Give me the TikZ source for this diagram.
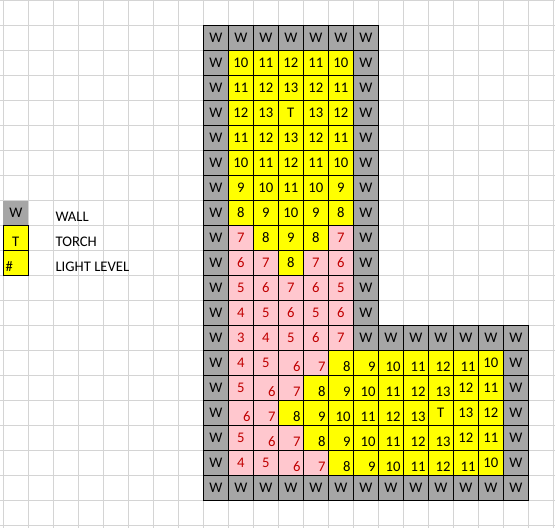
\documentclass[tikz,border=0pt]{standalone}
\usepackage{fontspec}
\setmainfont{Carlito}
\definecolor{wallgray}{HTML}{A6A6A6}
\definecolor{litey}{HTML}{FFFF00}
\definecolor{pinkfill}{HTML}{FFC7CE}
\definecolor{darkred}{HTML}{C00000}
\definecolor{gridgray}{HTML}{D4D4D4}
\tikzset{
  cellbox/.style={draw=black,line width=0.8pt},
  celltext/.style={inner sep=0pt,font=\fontsize{11}{13}\selectfont},
  gridline/.style={draw=gridgray,line width=0.75pt},
}
% col row fill textcolor text align
\newcommand\cellat[6]{%
  \path[cellbox,fill=#3] ({203.3+25*(#1-1)},{25.7+25*(#2-1)}) rectangle ++(25,25);
  \if#6c
    \node[celltext,text=#4,anchor=base] (c-#1-#2) at ({203.3+25*(#1-1)+12.5},{25.7+25*(#2-1)+17.1}) {#5};
  \else
    \node[celltext,text=#4,anchor=base east] (c-#1-#2) at ({203.3+25*#1-2.5},{25.7+25*#2-4.4}) {#5};
  \fi}
\newcommand\cellW[2]{\cellat{#1}{#2}{wallgray}{black}{W}{c}}
\newcommand\cellY[3]{\cellat{#1}{#2}{litey}{black}{#3}{c}}
\newcommand\cellYR[3]{\cellat{#1}{#2}{litey}{black}{#3}{r}}
\newcommand\cellP[3]{\cellat{#1}{#2}{pinkfill}{darkred}{#3}{c}}
\newcommand\cellPR[3]{\cellat{#1}{#2}{pinkfill}{darkred}{#3}{r}}
\begin{document}
\begin{tikzpicture}[x=0.75pt,y=-0.75pt]
\useasboundingbox (0,0) rectangle (555,528);
\fill[white] (0,0) rectangle (555,528);
% spreadsheet gridlines
\foreach \k in {0,...,22} \draw[gridline] ({3.3+25*\k},0) -- ({3.3+25*\k},528);
\foreach \k in {0,...,21} \draw[gridline] (0,{0.7+25*\k}) -- (555,{0.7+25*\k});
% legend
\path[fill=wallgray] (3.3,200.7) rectangle (28.3,225.7);
\node[celltext,anchor=base] (lw) at (15.8,217.8) {W};
\path[cellbox,fill=litey] (3.3,225.7) rectangle (28.3,250.7);
\node[celltext,anchor=base] (lt) at (15.8,246.3) {T};
\path[cellbox,fill=litey] (3.3,250.7) rectangle (28.3,275.7);
\node[celltext,anchor=base west] (lh) at (5.3,271.3) {\#};
\node[celltext,anchor=base west] (lwall) at (55.3,221.3) {WALL};
\node[celltext,anchor=base west] (ltorch) at (55.3,246.3) {TORCH};
\node[celltext,anchor=base west] (llight) at (55.3,271.3) {LIGHT LEVEL};
% walls of the upper part
\foreach \c in {1,...,7} {\cellW{\c}{1}}
\foreach \r in {2,...,18} {\cellW{1}{\r}}
\foreach \r in {2,...,13} {\cellW{7}{\r}}
\foreach \c in {8,...,13} {\cellW{\c}{13}}
\foreach \r in {14,...,18} {\cellW{13}{\r}}
\foreach \c in {1,...,13} {\cellW{\c}{19}}
% upper rows
\foreach \c/\v in {2/10,3/11,4/12,5/11,6/10} {\cellY{\c}{2}{\v}}
\foreach \c/\v in {2/11,3/12,4/13,5/12,6/11} {\cellY{\c}{3}{\v}}
\foreach \c/\v in {2/12,3/13,4/T,5/13,6/12} {\cellY{\c}{4}{\v}}
\foreach \c/\v in {2/11,3/12,4/13,5/12,6/11} {\cellY{\c}{5}{\v}}
\foreach \c/\v in {2/10,3/11,4/12,5/11,6/10} {\cellY{\c}{6}{\v}}
\foreach \c/\v in {2/9,3/10,4/11,5/10,6/9} {\cellY{\c}{7}{\v}}
\foreach \c/\v in {2/8,3/9,4/10,5/9,6/8} {\cellY{\c}{8}{\v}}
\foreach \c/\v/\t in {2/7/P,3/8/Y,4/9/Y,5/8/Y,6/7/P} {\csname cell\t\endcsname{\c}{9}{\v}}
\foreach \c/\v/\t in {2/6/P,3/7/P,4/8/Y,5/7/P,6/6/P} {\csname cell\t\endcsname{\c}{10}{\v}}
\foreach \c/\v in {2/5,3/6,4/7,5/6,6/5} {\cellP{\c}{11}{\v}}
\foreach \c/\v in {2/4,3/5,4/6,5/5,6/6} {\cellP{\c}{12}{\v}}
\foreach \c/\v in {2/3,3/4,4/5,5/6,6/7} {\cellP{\c}{13}{\v}}
% lower rows
\foreach \c/\v/\t in {2/4/P,3/5/P,4/6/PR,5/7/PR,6/8/YR,7/9/YR,8/10/YR,9/11/YR,10/12/YR,11/11/YR,12/10/Y} {\csname cell\t\endcsname{\c}{14}{\v}}
\foreach \c/\v/\t in {2/5/P,3/6/PR,4/7/PR,5/8/YR,6/9/YR,7/10/YR,8/11/YR,9/12/YR,10/13/YR,11/12/Y,12/11/Y} {\csname cell\t\endcsname{\c}{15}{\v}}
\foreach \c/\v/\t in {2/6/PR,3/7/PR,4/8/YR,5/9/YR,6/10/YR,7/11/YR,8/12/YR,9/13/YR,10/T/Y,11/13/Y,12/12/Y} {\csname cell\t\endcsname{\c}{16}{\v}}
\foreach \c/\v/\t in {2/5/P,3/6/PR,4/7/PR,5/8/YR,6/9/YR,7/10/YR,8/11/YR,9/12/YR,10/13/YR,11/12/Y,12/11/Y} {\csname cell\t\endcsname{\c}{17}{\v}}
\foreach \c/\v/\t in {2/4/P,3/5/P,4/6/PR,5/7/PR,6/8/YR,7/9/YR,8/10/YR,9/11/YR,10/12/YR,11/11/YR,12/10/Y} {\csname cell\t\endcsname{\c}{18}{\v}}
\end{tikzpicture}
\end{document}
